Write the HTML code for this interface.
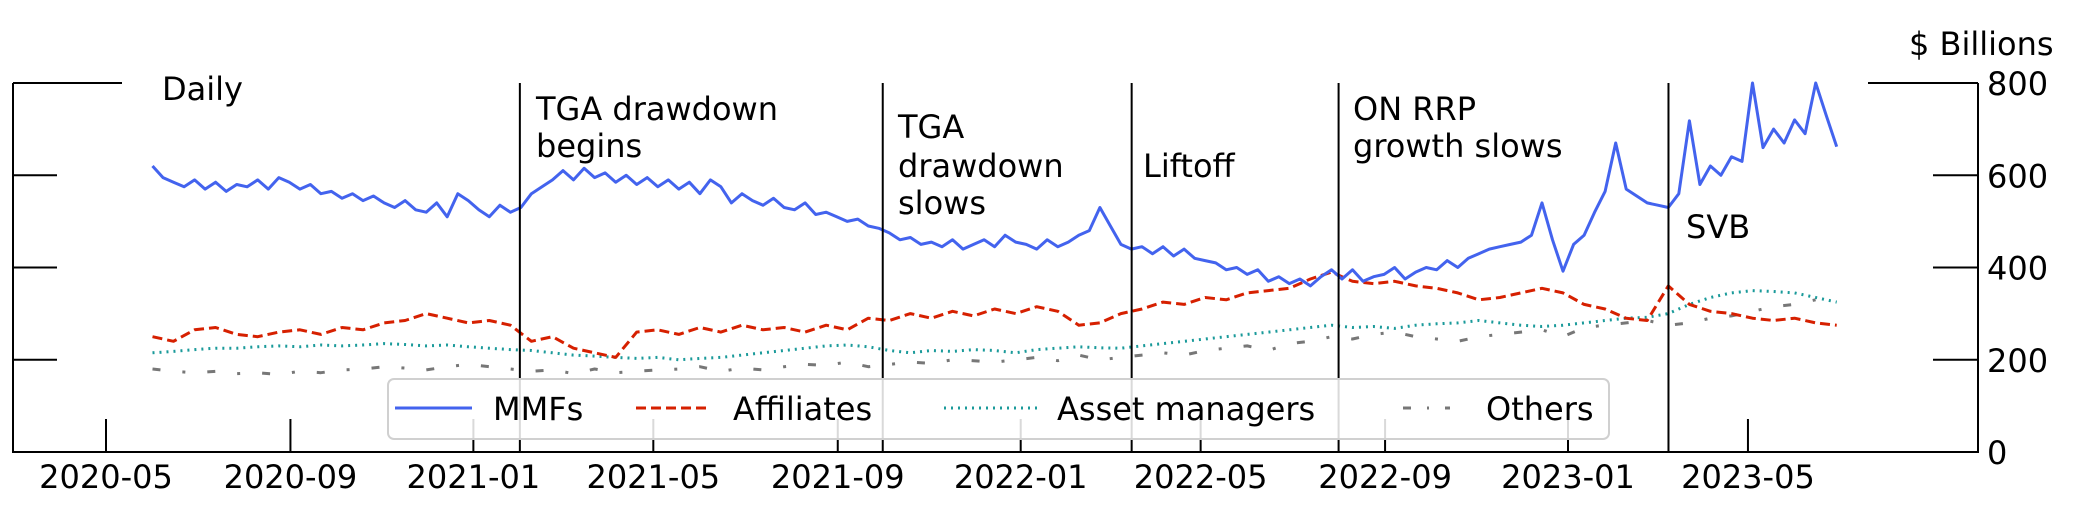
<!DOCTYPE html>
<html><head><meta charset="utf-8"><style>
html,body{margin:0;padding:0;background:#fff;}
svg{display:block;font-family:"DejaVu Sans","Liberation Sans",sans-serif;}
</style></head><body>
<svg id="chart" width="2075" height="517" viewBox="0 0 2075 517" xmlns="http://www.w3.org/2000/svg">
<g id="marks"></g>
<g id="axes"></g>
<g id="legend">
  <rect x="388" y="379" width="1221" height="60" rx="6" fill="rgba(255,255,255,0.85)" stroke="#d0d0d0" stroke-width="2"/>
  <g>
    <line x1="395" y1="408" x2="472" y2="408" stroke="#4363ee" stroke-width="3"/>
    <text x="493" y="420" font-size="32">MMFs</text>
  </g>
  <g>
    <line x1="636" y1="408" x2="709" y2="408" stroke="#d62000" stroke-width="3" stroke-dasharray="10,5"/>
    <text x="733" y="420" font-size="32">Affiliates</text>
  </g>
  <g>
    <line x1="944" y1="408" x2="1041" y2="408" stroke="#1a9a9a" stroke-width="3" stroke-dasharray="2,5"/>
    <text x="1057" y="420" font-size="32">Asset managers</text>
  </g>
  <g>
    <line x1="1403" y1="408" x2="1450" y2="408" stroke="#777" stroke-width="3" stroke-dasharray="8,16,2,16"/>
    <text x="1486" y="420" font-size="32">Others</text>
  </g>
</g>
</svg>
<script>
const startDate = "2020-06-01";
const mmfs = [620,595,585,575,590, 570,585,565,580, 575,590,570,595, 585,570,580,560,565,
 550,560,545,555, 540,530,545,525, 520,540,510,560,545, 525,510,535,520,
 530,560,575,590,610, 590,615,595,605, 585,600,580,595, 575,590,570,585,
 560,590,575,540,560, 545,535,550,530, 525,540,515,520, 510,500,505,490,485,
 475,460,465,450, 455,445,460,440, 450,460,445,470,455, 450,440,460,445,
 455,470,480,530, 490,450,440,445, 430,445,425,440,420, 415,410,395,400,
 385,395,370,380, 365,375,360,380,395, 375,395,370,380, 385,400,375,390,
 400,395,415,400,420, 430,440,445,450, 455,470,540,460,392, 450,470,520,565,
 670,570,555,540, 535,530,560,718,580, 620,600,640,630, 800,660,700,670,720,
 690,800,730,662];
const affiliates = [250,240,265,270,255,250,260,265,255,270,265,280,285,300,290,280,
 285,275,240,250,225,215,205,260,265,255,270,260,275,265,270,260,
 275,265,290,285,300,290,305,295,310,300,315,305,275,280,300,310,
 325,320,335,330,345,350,355,375,390,370,365,370,360,355,345,330,
 335,345,355,345,320,310,290,285,360,320,305,300,290,285,290,280,275];
const assetManagers = [215,218,222,225,225,228,230,228,232,230,232,235,233,230,232,228,
 225,222,220,215,210,208,205,203,205,200,203,205,210,215,220,225,
 230,232,228,220,215,220,218,222,220,215,222,225,228,226,225,230,
 235,240,245,250,255,260,265,270,275,270,272,268,275,278,280,285,
 280,275,272,275,280,285,290,292,300,320,335,345,350,348,345,335,325];
const others = [180,175,172,175,170,172,168,175,172,178,180,185,182,178,185,190,
 185,180,175,178,170,180,172,175,178,180,185,175,182,178,185,190,
 188,195,185,190,195,192,200,198,195,200,205,198,210,200,205,210,
 215,210,220,225,230,220,235,240,250,245,255,260,250,245,240,250,
 255,260,265,250,270,275,280,285,275,280,290,295,305,315,320,330,330];
const events = ["2021-02-01","2021-10-01","2022-03-16","2022-08-01","2023-03-09"];
const xTickLabels = ["2020-05","2020-09","2021-01","2021-05","2021-09","2022-01","2022-05","2022-09","2023-01","2023-05"];
const yTickValues = [0,200,400,600,800];

const NS="http://www.w3.org/2000/svg";
const X0=106, PX_PER_DAY=1.4995, REF=Date.UTC(2020,4,1);
const Y0=452, Y_PER=(452-83)/800;
const RIGHT=1978;
function dayOf(s){const p=s.split("-").map(Number);return (Date.UTC(p[0],p[1]-1,p[2]||1)-REF)/86400000;}
function xScale(day){return X0+day*PX_PER_DAY;}
function yScale(v){return Y0-v*Y_PER;}
const startDay=dayOf(startDate);
function mk(tag,attrs,parent){const e=document.createElementNS(NS,tag);for(const k in attrs)e.setAttribute(k,attrs[k]);parent.appendChild(e);return e;}
const marks=document.getElementById("marks"), axes=document.getElementById("axes");

function drawSeries(vals,stepDays,name,color,dash,w){
  const pts=vals.map((v,i)=>xScale(startDay+i*stepDays).toFixed(1)+","+yScale(v).toFixed(1)).join(" ");
  const el=mk("polyline",{points:pts,fill:"none",stroke:color,"stroke-width":w,"stroke-dasharray":dash,"stroke-linejoin":"round"},marks);
  
  
}
drawSeries(others,14.04,"others-line","#777","8,22,3,22",3);
drawSeries(assetManagers,14.04,"asset-managers-line","#1a9a9a","2,5",3);
drawSeries(affiliates,14.04,"affiliates-line","#d62000","10,5",3);
drawSeries(mmfs,7.02,"mmfs-line","#4363ee","none",3);

events.forEach(d=>{
  const x=xScale(dayOf(d));
  const l=mk("line",{x1:x,y1:83,x2:x,y2:452,stroke:"#000","stroke-width":2},axes);
  
  
});
[[13,83,13,452],[12,452,RIGHT+1,452],[RIGHT,83,RIGHT,452]].forEach(s=>{
  const l=mk("line",{x1:s[0],y1:s[1],x2:s[2],y2:s[3],stroke:"#000","stroke-width":2},axes);
  
  
});
yTickValues.forEach(v=>{
  const y=yScale(v);
  if(v>0){
    const lt=mk("line",{x1:13,y1:y,x2:v===800?122:57,y2:y,stroke:"#000","stroke-width":2},axes);
    
    
    const rt=mk("line",{x1:v===800?RIGHT-110:RIGHT-45,y1:y,x2:RIGHT,y2:y,stroke:"#000","stroke-width":2},axes);
    
    
  }
  const t=mk("text",{x:RIGHT+9,y:y+12,"font-size":32},axes);
  t.textContent=v;
  
  
});
xTickLabels.forEach(s=>{
  const x=xScale(dayOf(s+"-01"));
  const l=mk("line",{x1:x,y1:419,x2:x,y2:452,stroke:"#000","stroke-width":2},axes);
  
  
  const t=mk("text",{x:x,y:488,"font-size":32,"text-anchor":"middle"},axes);
  t.textContent=s;
  
  
});
const notes=[["Daily",162,[100],"frequency-label"],["TGA drawdown|begins",536,[120,157],"tga-begins-label"],
 ["TGA|drawdown|slows",898,[138,177,214],"tga-slows-label"],["Liftoff",1143,[177],"liftoff-label"],
 ["ON RRP|growth slows",1353,[120,157],"onrrp-label"],["SVB",1686,[238],"svb-label"],["$ Billions",1909,[55],"y-axis-title"]];
notes.forEach(n=>{
  const lines=n[0].split("|");
  const t=mk("text",{"font-size":32},axes);
  
  
  lines.forEach((s,i)=>{const ts=mk("tspan",{x:n[1],y:n[2][i]},t);ts.textContent=s;});
});
document.getElementById("chart").appendChild(document.getElementById("legend"));
</script>
</body></html>
